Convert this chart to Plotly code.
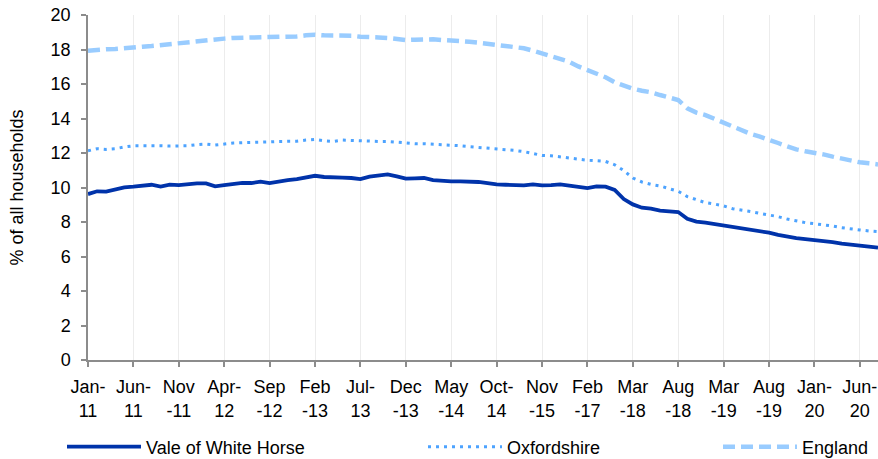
import plotly.graph_objects as go

categories = [
    "Jan-11", "Feb-11", "Mar-11", "Apr-11", "May-11", "Jun-11", "Jul-11", "Aug-11", "Sep-11", "Oct-11",
    "Nov-11", "Dec-11", "Jan-12", "Feb-12", "Mar-12", "Apr-12", "May-12", "Jun-12", "Jul-12", "Aug-12",
    "Sep-12", "Oct-12", "Nov-12", "Dec-12", "Jan-13", "Feb-13", "Mar-13", "Apr-13", "May-13", "Jun-13",
    "Jul-13", "Aug-13", "Sep-13", "Oct-13", "Nov-13", "Dec-13", "Jan-14", "Feb-14", "Mar-14", "Apr-14",
    "May-14", "Jun-14", "Jul-14", "Aug-14", "Sep-14", "Oct-14", "Jan-15", "Apr-15", "Jul-15", "Oct-15",
    "Nov-15", "Feb-16", "May-16", "Aug-16", "Nov-16", "Feb-17", "May-17", "Aug-17", "Nov-17", "Feb-18",
    "Mar-18", "Apr-18", "May-18", "Jun-18", "Jul-18", "Aug-18", "Sep-18", "Oct-18", "Nov-18", "Jan-19",
    "Mar-19", "Apr-19", "May-19", "Jun-19", "Jul-19", "Aug-19", "Sep-19", "Oct-19", "Nov-19", "Dec-19",
    "Jan-20", "Feb-20", "Mar-20", "Apr-20", "May-20", "Jun-20", "Jul-20", "Aug-20",
]

tick_categories = [
    "Jan-11", "Jun-11", "Nov-11", "Apr-12", "Sep-12", "Feb-13", "Jul-13", "Dec-13", "May-14",
    "Oct-14", "Nov-15", "Feb-17", "Mar-18", "Aug-18", "Mar-19", "Aug-19", "Jan-20", "Jun-20",
]
tick_labels = [
    "Jan-<br>11", "Jun-<br>11", "Nov<br>-11", "Apr-<br>12", "Sep<br>-12", "Feb<br>-13", "Jul-<br>13",
    "Dec<br>-13", "May<br>-14", "Oct-<br>14", "Nov<br>-15", "Feb<br>-17", "Mar<br>-18", "Aug<br>-18",
    "Mar<br>-19", "Aug<br>-19", "Jan-<br>20", "Jun-<br>20",
]

vale = [
    9.62, 9.78, 9.76, 9.91, 10.01, 10.05, 10.10, 10.16, 10.05, 10.17,
    10.14, 10.20, 10.24, 10.24, 10.07, 10.14, 10.20, 10.27, 10.26, 10.34,
    10.26, 10.37, 10.43, 10.49, 10.59, 10.68, 10.61, 10.57, 10.57, 10.55,
    10.49, 10.63, 10.71, 10.76, 10.65, 10.51, 10.53, 10.55, 10.43, 10.38,
    10.36, 10.35, 10.35, 10.32, 10.26, 10.18, 10.16, 10.14, 10.12, 10.18,
    10.12, 10.14, 10.18, 10.11, 10.03, 9.97, 10.06, 10.05, 9.86, 9.33,
    9.02, 8.83, 8.77, 8.66, 8.62, 8.58, 8.19, 8.02, 7.96, 7.88,
    7.81, 7.71, 7.65, 7.55, 7.46, 7.38, 7.25, 7.15, 7.07, 7.01,
    6.96, 6.92, 6.84, 6.74, 6.71, 6.63, 6.57, 6.51,
]

oxfordshire = [
    12.13, 12.25, 12.21, 12.25, 12.35, 12.42, 12.42, 12.44, 12.42, 12.40,
    12.40, 12.42, 12.48, 12.52, 12.46, 12.54, 12.58, 12.60, 12.60, 12.64,
    12.64, 12.67, 12.67, 12.68, 12.75, 12.79, 12.71, 12.67, 12.75, 12.73,
    12.67, 12.67, 12.67, 12.67, 12.62, 12.58, 12.54, 12.54, 12.52, 12.48,
    12.46, 12.42, 12.37, 12.33, 12.29, 12.25, 12.23, 12.15, 12.08, 11.96,
    11.86, 11.84, 11.77, 11.69, 11.65, 11.58, 11.55, 11.51, 11.32, 10.98,
    10.55, 10.32, 10.18, 10.09, 9.93, 9.78, 9.47, 9.28, 9.12, 9.04,
    8.93, 8.77, 8.70, 8.60, 8.50, 8.42, 8.31, 8.17, 8.06, 7.96,
    7.90, 7.85, 7.77, 7.67, 7.59, 7.54, 7.48, 7.44,
]

england = [
    17.93, 17.99, 18.01, 18.03, 18.09, 18.14, 18.16, 18.20, 18.26, 18.28,
    18.32, 18.38, 18.45, 18.55, 18.61, 18.63, 18.67, 18.68, 18.70, 18.74,
    18.74, 18.74, 18.74, 18.76, 18.82, 18.86, 18.82, 18.82, 18.86, 18.80,
    18.74, 18.74, 18.70, 18.67, 18.59, 18.55, 18.57, 18.61, 18.59, 18.55,
    18.53, 18.51, 18.45, 18.40, 18.34, 18.30, 18.22, 18.14, 18.07, 17.93,
    17.78, 17.62, 17.49, 17.29, 17.02, 16.81, 16.62, 16.39, 16.10, 15.88,
    15.73, 15.61, 15.52, 15.36, 15.21, 15.07, 14.59, 14.34, 14.20, 13.97,
    13.74, 13.54, 13.33, 13.10, 12.95, 12.79, 12.58, 12.39, 12.21, 12.10,
    12.04, 11.92, 11.79, 11.67, 11.55, 11.46, 11.40, 11.34,
]

y_ticks = [0, 2, 4, 6, 8, 10, 12, 14, 16, 18, 20]

FONT = "Liberation Sans, Arial, sans-serif"
FS = 18
AXIS_COLOR = "#8c8c8c"

fig = go.Figure()
fig.add_trace(go.Scatter(
    x=categories, y=vale, name="Vale of White Horse", mode="lines",
    line=dict(color="#0033aa", width=3.8), legend="legend",
))
fig.add_trace(go.Scatter(
    x=categories, y=oxfordshire, name="Oxfordshire", mode="lines",
    line=dict(color="#4da3ff", width=3, dash="3px,5px"), legend="legend2",
))
fig.add_trace(go.Scatter(
    x=categories, y=england, name="England", mode="lines",
    line=dict(color="#99ccff", width=4.5, dash="12px,6px"), legend="legend3",
))

legend_common = dict(
    orientation="h", yanchor="middle", xanchor="left",
    yref="container", xref="container", y=1 - 447 / 459,
    font=dict(family=FONT, size=FS, color="#000000"),
    bgcolor="rgba(0,0,0,0)", itemwidth=74,
)

fig.update_layout(
    width=878, height=459,
    margin=dict(l=88, r=0, t=15, b=99, autoexpand=False),
    plot_bgcolor="white", paper_bgcolor="white",
    font=dict(family=FONT, size=FS, color="#000000"),
    showlegend=True,
    legend=dict(x=62 / 878, **legend_common),
    legend2=dict(x=423 / 878, **legend_common),
    legend3=dict(x=718 / 878, **legend_common),
    xaxis=dict(
        type="category", categoryorder="array", categoryarray=categories,
        range=[0, len(categories) - 1],
        tickmode="array", tickvals=tick_categories, ticktext=tick_labels,
        showgrid=True, gridcolor="#ececec", gridwidth=1.3,
        showline=True, linecolor=AXIS_COLOR, linewidth=1.5,
        ticks="outside", ticklen=5, tickcolor=AXIS_COLOR, tickwidth=1.5,
        tickfont=dict(family=FONT, size=FS, color="#000000"),
        tickangle=0, zeroline=False, automargin=False, ticklabelstandoff=5,
    ),
    yaxis=dict(
        range=[0, 20], tickmode="array", tickvals=y_ticks,
        showgrid=False, zeroline=False, automargin=False,
        showline=True, linecolor=AXIS_COLOR, linewidth=1.5,
        ticks="outside", ticklen=5, tickcolor=AXIS_COLOR, tickwidth=1.5,
        ticklabelstandoff=7,
        tickfont=dict(family=FONT, size=FS, color="#000000"),
        title=dict(text="% of all households", font=dict(family=FONT, size=FS), standoff=22),
    ),
)

fig.write_html(
    "out.html",
    config={"displayModeBar": False},
    post_script="document.body.style.margin='0';document.body.style.overflow='hidden';",
)
